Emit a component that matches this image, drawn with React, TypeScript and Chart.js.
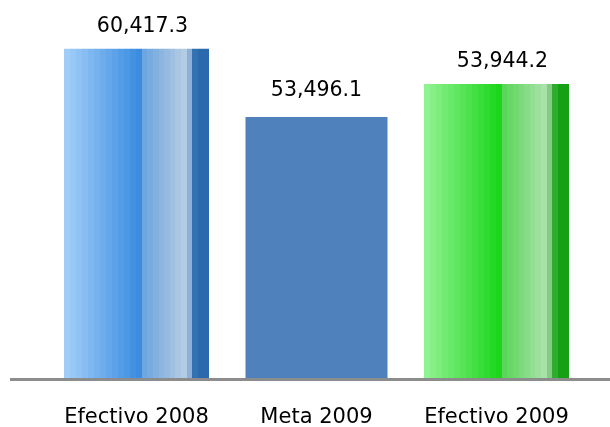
import React, { useEffect, useRef } from "react";
import { Chart, registerables } from "chart.js";

Chart.register(...registerables);

const categories = ["Efectivo 2008", "Meta 2009", "Efectivo 2009"];
const efectivoValues: (number | null)[] = [60417.3, null, 53944.2];
const metaValues: (number | null)[] = [null, 53496.1, null];

// hidden axis limits (two separate value axes, as in the source chart)
const Y_MAX_EFECTIVO = 67542;
const Y_MAX_META = 75427;

const FONT = '"DejaVu Sans", "Noto Sans", sans-serif';

type Seg = { from: number; to: number; c1: string; c2: string; n: number };

function hex(c: string) {
  const v = parseInt(c.slice(1), 16);
  return [(v >> 16) & 255, (v >> 8) & 255, v & 255];
}
function mix(a: string, b: string, t: number) {
  const x = hex(a), y = hex(b);
  const r = x.map((v, i) => Math.round(v + (y[i] - v) * t));
  return `rgb(${r[0]},${r[1]},${r[2]})`;
}

const blueSegs: Seg[] = [
  { from: 0, to: 0.536, c1: "#a2ccf8", c2: "#3a8de0", n: 13 },
  { from: 0.536, to: 0.846, c1: "#6ea6df", c2: "#b4cbe4", n: 8 },
  { from: 0.846, to: 0.88, c1: "#8eb0d7", c2: "#8eb0d7", n: 1 },
  { from: 0.88, to: 0.926, c1: "#3371b1", c2: "#3371b1", n: 1 },
  { from: 0.926, to: 1, c1: "#2a69ad", c2: "#2a69ad", n: 1 },
];
const greenSegs: Seg[] = [
  { from: 0, to: 0.536, c1: "#90f290", c2: "#1cd61c", n: 13 },
  { from: 0.536, to: 0.846, c1: "#5ad65a", c2: "#a8e2a8", n: 8 },
  { from: 0.846, to: 0.88, c1: "#84cc84", c2: "#84cc84", n: 1 },
  { from: 0.88, to: 0.926, c1: "#2eac2e", c2: "#2eac2e", n: 1 },
  { from: 0.926, to: 1, c1: "#16a016", c2: "#16a016", n: 1 },
];

const EFECTIVO_BAR = 0.8056;
const META_BAR = 0.789;

function bandedFill(segsByIndex: Record<number, Seg[]>, barPct: number, fallback: string) {
  return (c: any) => {
    const chart = c.chart;
    const xs = chart.scales && chart.scales.x;
    const segs = segsByIndex[c.dataIndex];
    if (!xs || !chart.chartArea || !segs) return fallback;
    const center = xs.getPixelForValue(c.dataIndex);
    const w = (xs.width / categories.length) * barPct;
    const g = chart.ctx.createLinearGradient(center - w / 2, 0, center + w / 2, 0);
    const eps = 0.0005;
    segs.forEach((s) => {
      for (let k = 0; k < s.n; k++) {
        const col = mix(s.c1, s.c2, s.n > 1 ? k / (s.n - 1) : 0);
        const a = s.from + ((s.to - s.from) * k) / s.n;
        const b = s.from + ((s.to - s.from) * (k + 1)) / s.n;
        g.addColorStop(Math.min(1, Math.max(0, a)), col);
        g.addColorStop(Math.min(1, Math.max(0, b - eps)), col);
      }
    });
    return g;
  };
}

const labelStyle = [
  { dx: 6, gap: 17 },
  { dx: 0, gap: 21 },
];

const fmt = (v: number) =>
  v.toLocaleString("en-US", { minimumFractionDigits: 1, maximumFractionDigits: 1 });

const overlay = {
  id: "overlay",
  afterDatasetsDraw(chart: any) {
    const ctx = chart.ctx;
    const xs = chart.scales.x;
    const area = chart.chartArea;
    ctx.save();
    ctx.strokeStyle = "#8c8c8c";
    ctx.lineWidth = 3;
    ctx.beginPath();
    ctx.moveTo(10, area.bottom + 1.5);
    ctx.lineTo(chart.width, area.bottom + 1.5);
    ctx.stroke();

    ctx.fillStyle = "#000";
    ctx.textAlign = "center";
    ctx.textBaseline = "alphabetic";
    ctx.font = `20.5px ${FONT}`;
    chart.data.datasets.forEach((ds: any, di: number) => {
      const meta = chart.getDatasetMeta(di);
      meta.data.forEach((el: any, i: number) => {
        const v = ds.data[i];
        if (v == null) return;
        ctx.fillText(fmt(v), el.x + labelStyle[di].dx, el.y - labelStyle[di].gap);
      });
    });

    ctx.font = `21px ${FONT}`;
    categories.forEach((c, i) => {
      ctx.fillText(c, xs.getPixelForValue(i), area.bottom + 45);
    });
    ctx.restore();
  },
};

export default function App() {
  const ref = useRef<HTMLCanvasElement>(null);
  useEffect(() => {
    if (!ref.current) return;
    const chart = new Chart(ref.current, {
      type: "bar",
      data: {
        labels: categories,
        datasets: [
          {
            data: efectivoValues,
            yAxisID: "y",
            grouped: false,
            barPercentage: EFECTIVO_BAR,
            categoryPercentage: 1,
            borderWidth: 0,
            backgroundColor: bandedFill({ 0: blueSegs, 2: greenSegs }, EFECTIVO_BAR, "#4f81bd"),
          } as any,
          {
            data: metaValues,
            yAxisID: "y2",
            grouped: false,
            barPercentage: META_BAR,
            categoryPercentage: 1,
            borderWidth: 0,
            backgroundColor: "#4f81bd",
          } as any,
        ],
      },
      options: {
        animation: false,
        responsive: false,
        layout: { padding: { top: 10, bottom: 49, left: 46.5, right: 23.5 } },
        plugins: { legend: { display: false }, tooltip: { enabled: false } },
        scales: {
          x: { display: false, offset: true },
          y: { display: false, min: 0, max: Y_MAX_EFECTIVO },
          y2: { display: false, min: 0, max: Y_MAX_META, position: "right" },
        },
      },
      plugins: [overlay],
    });
    return () => chart.destroy();
  }, []);
  return (
    <div style={{ position: "fixed", left: 0, top: 0, width: 610, height: 427, background: "#fff" }}>
      <canvas ref={ref} width={610} height={427} style={{ display: "block" }} />
    </div>
  );
}
